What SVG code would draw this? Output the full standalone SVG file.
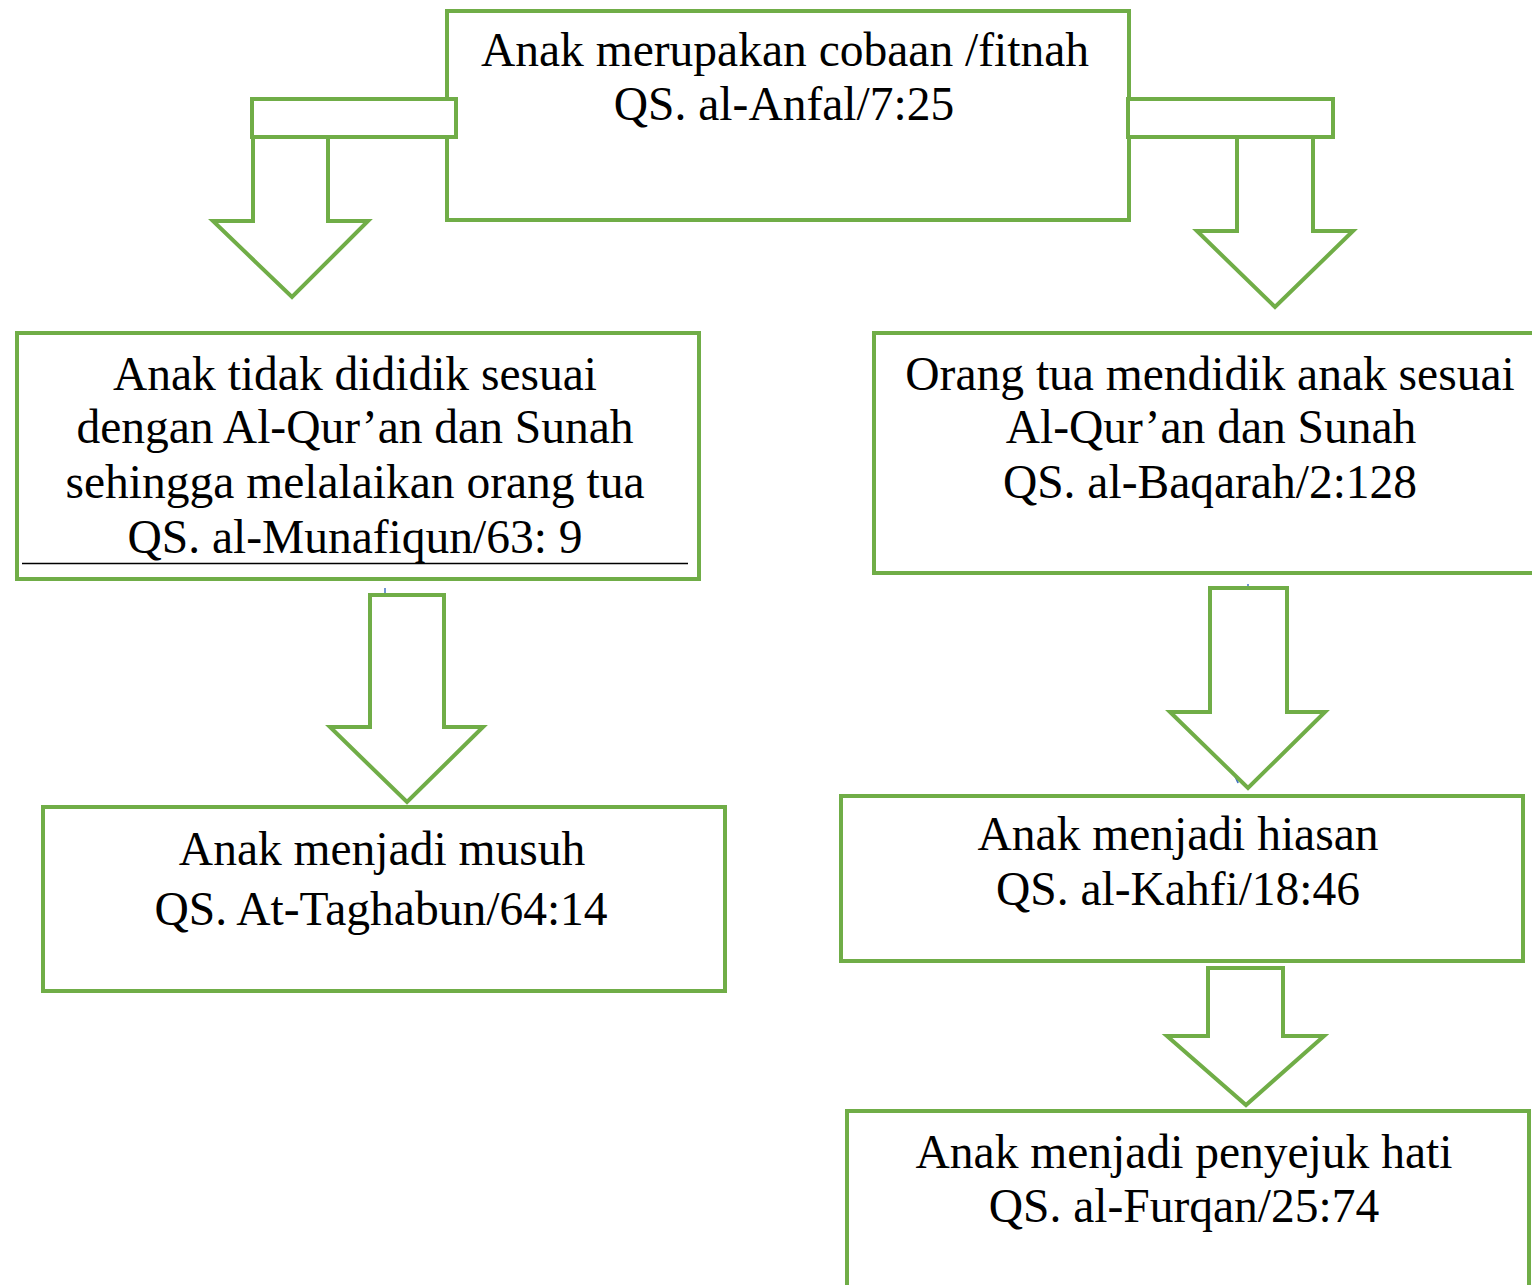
<svg xmlns="http://www.w3.org/2000/svg" width="1532" height="1285" viewBox="0 0 1532 1285">
<style>
.box{fill:#fff;stroke:#70AD47;stroke-width:4}
.arr{fill:#fff;stroke:#70AD47;stroke-width:4;stroke-linejoin:miter}
.t{font-family:"Liberation Serif","Times New Roman",serif;font-size:47.5px;fill:#000;text-anchor:middle}
.blue{stroke:#4472C4;stroke-width:1.5;fill:none}
</style>
<rect width="1532" height="1285" fill="#fff"/>
<g id="top">
<rect class="box" x="447" y="11" width="682" height="209"/>
<text class="t" x="785" y="66">Anak merupakan cobaan /fitnah</text>
<text class="t" x="784" y="120">QS. al-Anfal/7:25</text>
</g>
<g id="connectors">
<rect class="arr" x="252" y="99" width="204" height="38"/>
<polygon class="arr" points="253,137 328,137 328,221 368,221 292,297 213,221 253,221"/>
<rect class="arr" x="1128" y="99" width="205" height="38"/>
<polygon class="arr" points="1237,137 1313,137 1313,231 1353,231 1275,307 1197,231 1237,231"/>
<line class="blue" x1="385" y1="588" x2="385" y2="597"/>
<polygon class="arr" points="370,595 444,595 444,727 483,727 407,802 330,727 370,727"/>
<line class="blue" x1="1248" y1="584" x2="1248" y2="590"/>
<path d="M1232,770 L1238,783 L1236,770" fill="#4472C4" stroke="#4472C4" stroke-width="1.5"/>
<polygon class="arr" points="1210,588 1287,588 1287,712 1325,712 1248,788 1170,712 1210,712"/>
<polygon class="arr" points="1208,968 1283,968 1283,1036 1324,1036 1246,1105 1167,1036 1208,1036"/>
</g>
<g id="left1">
<rect class="box" x="17" y="333" width="682" height="246"/>
<text class="t" x="355" y="390">Anak tidak dididik sesuai</text>
<text class="t" x="355" y="443">dengan Al-Qur’an dan Sunah</text>
<text class="t" x="355" y="498">sehingga melalaikan orang tua</text>
<text class="t" x="355" y="553">QS. al-Munafiqun/63: 9</text>
<line x1="22" y1="563.5" x2="688" y2="563.5" stroke="#000" stroke-width="1.5"/>
</g>
<g id="right1">
<rect class="box" x="874" y="333" width="662" height="240"/>
<text class="t" x="1210" y="390">Orang tua mendidik anak sesuai</text>
<text class="t" x="1211" y="443">Al-Qur’an dan Sunah</text>
<text class="t" x="1210" y="498">QS. al-Baqarah/2:128</text>
</g>
<g id="left2">
<rect class="box" x="43" y="807" width="682" height="184"/>
<text class="t" x="382" y="865">Anak menjadi musuh</text>
<text class="t" x="381" y="925">QS. At-Taghabun/64:14</text>
</g>
<g id="right2">
<rect class="box" x="841" y="796" width="682" height="165"/>
<text class="t" x="1178" y="850">Anak menjadi hiasan</text>
<text class="t" x="1178" y="905">QS. al-Kahfi/18:46</text>
</g>
<g id="right3">
<rect class="box" x="847" y="1111" width="682" height="190"/>
<text class="t" x="1184" y="1168">Anak menjadi penyejuk hati</text>
<text class="t" x="1184" y="1222">QS. al-Furqan/25:74</text>
</g>
</svg>
